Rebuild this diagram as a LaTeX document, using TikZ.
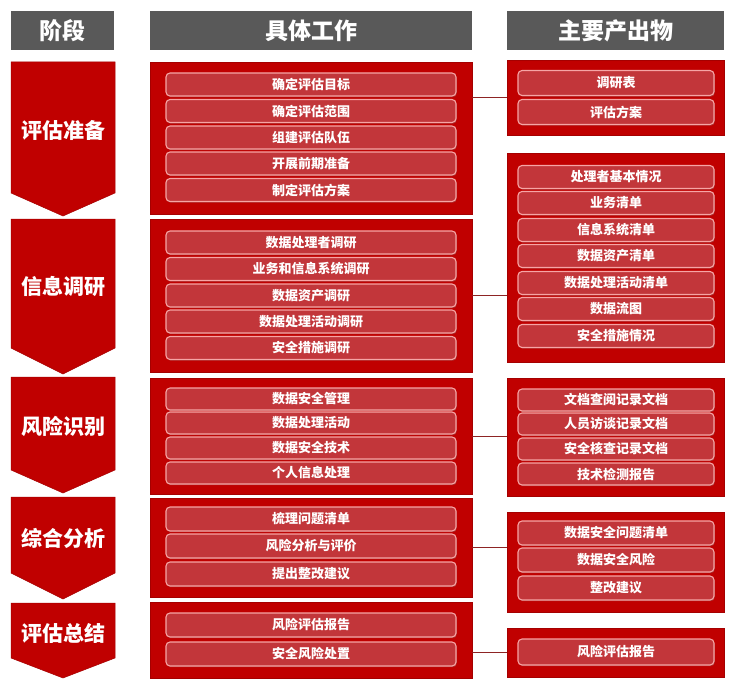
\documentclass[tikz,border=0pt]{standalone}
\usepackage{fontspec}
\setmainfont{Noto Sans CJK SC}
\usetikzlibrary{shadows}
\definecolor{hdr}{HTML}{595959}
\definecolor{boxred}{HTML}{C00000}
\definecolor{boxedge}{HTML}{A50000}
\definecolor{pillred}{HTML}{C2363A}
\definecolor{pillline}{HTML}{F6A5A5}
\definecolor{linkred}{HTML}{8E2424}
\begin{document}
\begin{tikzpicture}[x=1pt,y=-1pt,
  hdrbox/.style={fill=hdr, text=white, font=\bfseries\fontsize{23}{26}\selectfont, inner sep=0pt, minimum height=39pt},
  panel/.style={fill=boxred, draw=boxedge, line width=0.8pt, inner sep=0pt},
  midpanel/.style={panel, minimum width=322pt},
  rpanel/.style={panel, minimum width=217pt},
  pill/.style={fill=pillred, draw=pillline, line width=1.1pt, rounded corners=4pt, text=white,
    font=\bfseries\fontsize{13}{15}\selectfont, inner sep=0pt,
    drop shadow={shadow xshift=0.8pt, shadow yshift=-1.2pt, opacity=0.35}},
  midpill/.style={pill, minimum width=290pt},
  rpill/.style={pill, minimum width=196pt},
  phase/.style={fill=boxred, draw=boxedge, line width=0.5pt},
  phasetext/.style={text=white, font=\bfseries\fontsize{21}{24}\selectfont, inner sep=0pt},
  link/.style={draw=linkred, line width=0.9pt}]
\useasboundingbox (0,0) rectangle (736,690);

% headers
\node[hdrbox, minimum width=103pt] (h1) at (62.5,30.5) {阶段};
\node[hdrbox, minimum width=322pt] (h2) at (311,30.5) {具体工作};
\node[hdrbox, minimum width=217pt] (h3) at (615.5,30.5) {主要产出物};

% phase chevrons
\foreach \top/\sh/\tip/\name/\lab in {62/193/216/p1/评估准备, 219/348/374/p2/信息调研, 377/470/493/p3/风险识别, 497/573/599/p4/综合分析, 603/658/678/p5/评估总结}{
  \fill[phase] (11,\top) -- (115,\top) -- (115,\sh) -- (63,\tip) -- (11,\sh) -- cycle;
  \node[phasetext] (\name) at (63,{(\top+\sh)/2+3}) {\lab};
}

% middle panels
\node[midpanel, minimum height=152pt] (m1) at (311,138) {};
\node[midpanel, minimum height=153pt] (m2) at (311,295.5) {};
\node[midpanel, minimum height=116pt] (m3) at (311,436) {};
\node[midpanel, minimum height=99pt] (m4) at (311,547.5) {};
\node[midpanel, minimum height=76pt] (m5) at (311,640) {};

% right panels
\node[rpanel, minimum height=75pt] (r1) at (615.5,97.5) {};
\node[rpanel, minimum height=209pt] (r2) at (615.5,257.5) {};
\node[rpanel, minimum height=118pt] (r3) at (615.5,437) {};
\node[rpanel, minimum height=100pt] (r4) at (615.5,562) {};
\node[rpanel, minimum height=49pt] (r5) at (615.5,652.5) {};

% middle pills
\foreach \t/\y [count=\i] in {确定评估目标/84.5, 确定评估范围/111, 组建评估队伍/137.5, 开展前期准备/163.5, 制定评估方案/190}
  \node[midpill, minimum height=23pt] (m1-\i) at (311,\y) {\t};
\foreach \t/\y [count=\i] in {数据处理者调研/242.5, 业务和信息系统调研/269, 数据资产调研/295.5, 数据处理活动调研/321.5, 安全措施调研/348}
  \node[midpill, minimum height=23pt] (m2-\i) at (311,\y) {\t};
\foreach \t/\y [count=\i] in {数据安全管理/399, 数据处理活动/423, 数据安全技术/448, 个人信息处理/473}
  \node[midpill, minimum height=22pt] (m3-\i) at (311,\y) {\t};
\foreach \t/\y [count=\i] in {梳理问题清单/519, 风险分析与评价/546, 提出整改建议/574}
  \node[midpill, minimum height=24pt] (m4-\i) at (311,\y) {\t};
\foreach \t/\y [count=\i] in {风险评估报告/625, 安全风险处置/654}
  \node[midpill, minimum height=24pt] (m5-\i) at (311,\y) {\t};

% right pills
\foreach \t/\y [count=\i] in {调研表/83, 评估方案/112}
  \node[rpill, minimum height=25pt] (r1-\i) at (616,\y) {\t};
\foreach \t/\y [count=\i] in {处理者基本情况/177, 业务清单/203, 信息系统清单/230, 数据资产清单/256, 数据处理活动清单/283, 数据流图/309, 安全措施情况/336}
  \node[rpill, minimum height=23pt] (r2-\i) at (616,\y) {\t};
\foreach \t/\y [count=\i] in {文档查阅记录文档/400, 人员访谈记录文档/424, 安全核查记录文档/449, 技术检测报告/474}
  \node[rpill, minimum height=22pt] (r3-\i) at (616,\y) {\t};
\foreach \t/\y [count=\i] in {数据安全问题清单/533, 数据安全风险/560, 整改建议/588}
  \node[rpill, minimum height=24pt] (r4-\i) at (616,\y) {\t};
\node[rpill, minimum height=26pt] (r5-1) at (616,652) {风险评估报告};

% connectors
\draw[link] (m1.east |- r1.west) -- (r1.west);
\draw[link] (m2.east) -- (m2.east -| r2.west);
\draw[link] (m3.east) -- (m3.east -| r3.west);
\draw[link] (m4.east) -- (m4.east -| r4.west);
\draw[link] (m5.east |- r5.west) -- (r5.west);
\end{tikzpicture}
\end{document}
